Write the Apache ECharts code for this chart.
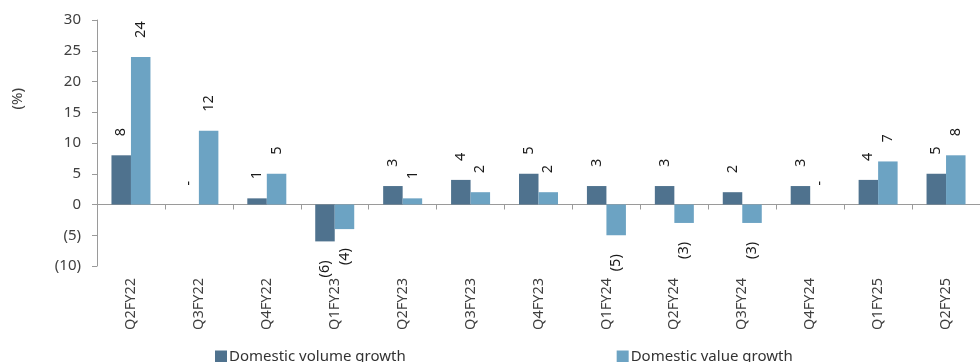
<!DOCTYPE html>
<html><head><meta charset="utf-8">
<script src="https://cdn.jsdelivr.net/npm/echarts@6/dist/echarts.min.js"></script>
<style>html,body{margin:0;padding:0;background:#fff}#c{width:980px;height:362px}</style>
</head><body><div id="c"></div>
<script>
var categories = ['Q2FY22','Q3FY22','Q4FY22','Q1FY23','Q2FY23','Q3FY23','Q4FY23','Q1FY24','Q2FY24','Q3FY24','Q4FY24','Q1FY25','Q2FY25'];
var volumeGrowth = [8, 0, 1, -6, 3, 4, 5, 3, 3, 2, 3, 4, 5];
var valueGrowth = [24, 12, 5, -4, 1, 2, 2, -5, -3, -3, 0, 7, 8];
var yTicks = {min: -10, max: 30, interval: 5};
var seriesNames = ['Domestic volume growth', 'Domestic value growth'];

var FONT = '"Noto Sans", sans-serif';
function fmt(v){ if (v === 0) return '-'; return v < 0 ? '(' + Math.abs(v) + ')' : String(v); }
function mk(arr){
  return arr.map(function(v){
    if (v < 0) return {value: v, label: {position: 'bottom', align: 'right'}};
    return {value: v};
  });
}
var labelBase = {show: true, position: 'top', rotate: 90, align: 'left', verticalAlign: 'middle',
  distance: 19, color: '#1a1a1a', fontSize: 14.5, fontFamily: FONT,
  formatter: function(p){ return fmt(p.value); }};

var chart = echarts.init(document.getElementById('c'), null, {renderer: 'canvas'});
chart.setOption({
  animation: false,
  textStyle: {fontFamily: FONT},
  grid: {left: 97, right: -6, top: 20, bottom: 96, containLabel: false},
  legend: {
    data: seriesNames, left: 210, top: 344, itemGap: 211, itemWidth: 12, itemHeight: 12,
    icon: 'rect', textStyle: {fontSize: 15, color: '#333', fontFamily: FONT, padding: [0,0,0,-3]}
  },
  graphic: [{type: 'text', left: 10, top: 88, rotation: Math.PI/2,
    style: {text: '(%)', fontSize: 15, fill: '#404040', fontFamily: FONT}}],
  xAxis: [
    {type: 'category', data: categories, position: 'bottom',
     axisLine: {show: false, onZero: false}, axisTick: {show: false},
     axisLabel: {rotate: 90, margin: 12, fontSize: 14.5, color: '#404040', fontFamily: FONT}},
    {type: 'category', data: categories, position: 'bottom',
     axisLine: {show: true, onZero: true, lineStyle: {color: '#9a9a9a', width: 1}},
     axisTick: {show: true, length: 5, lineStyle: {color: '#9a9a9a'}},
     axisLabel: {show: false}}
  ],
  yAxis: {type: 'value', min: yTicks.min, max: yTicks.max, interval: yTicks.interval,
    axisLine: {show: true, lineStyle: {color: '#9a9a9a'}},
    axisTick: {show: true, length: 5, lineStyle: {color: '#9a9a9a'}},
    splitLine: {show: false},
    axisLabel: {margin: 16, fontSize: 15, color: '#404040', fontFamily: FONT,
      formatter: function(v){ return v < 0 ? '(' + Math.abs(v) + ')' : String(v); }}},
  series: [
    {name: seriesNames[0], type: 'bar', xAxisIndex: 0, data: mk(volumeGrowth), barWidth: 19.5, barGap: '0%',
     itemStyle: {color: '#4F728E'}, label: labelBase},
    {name: seriesNames[1], type: 'bar', xAxisIndex: 0, data: mk(valueGrowth), barWidth: 19.5, barGap: '0%',
     itemStyle: {color: '#6CA3C3'}, label: labelBase}
  ]
});
</script></body></html>
